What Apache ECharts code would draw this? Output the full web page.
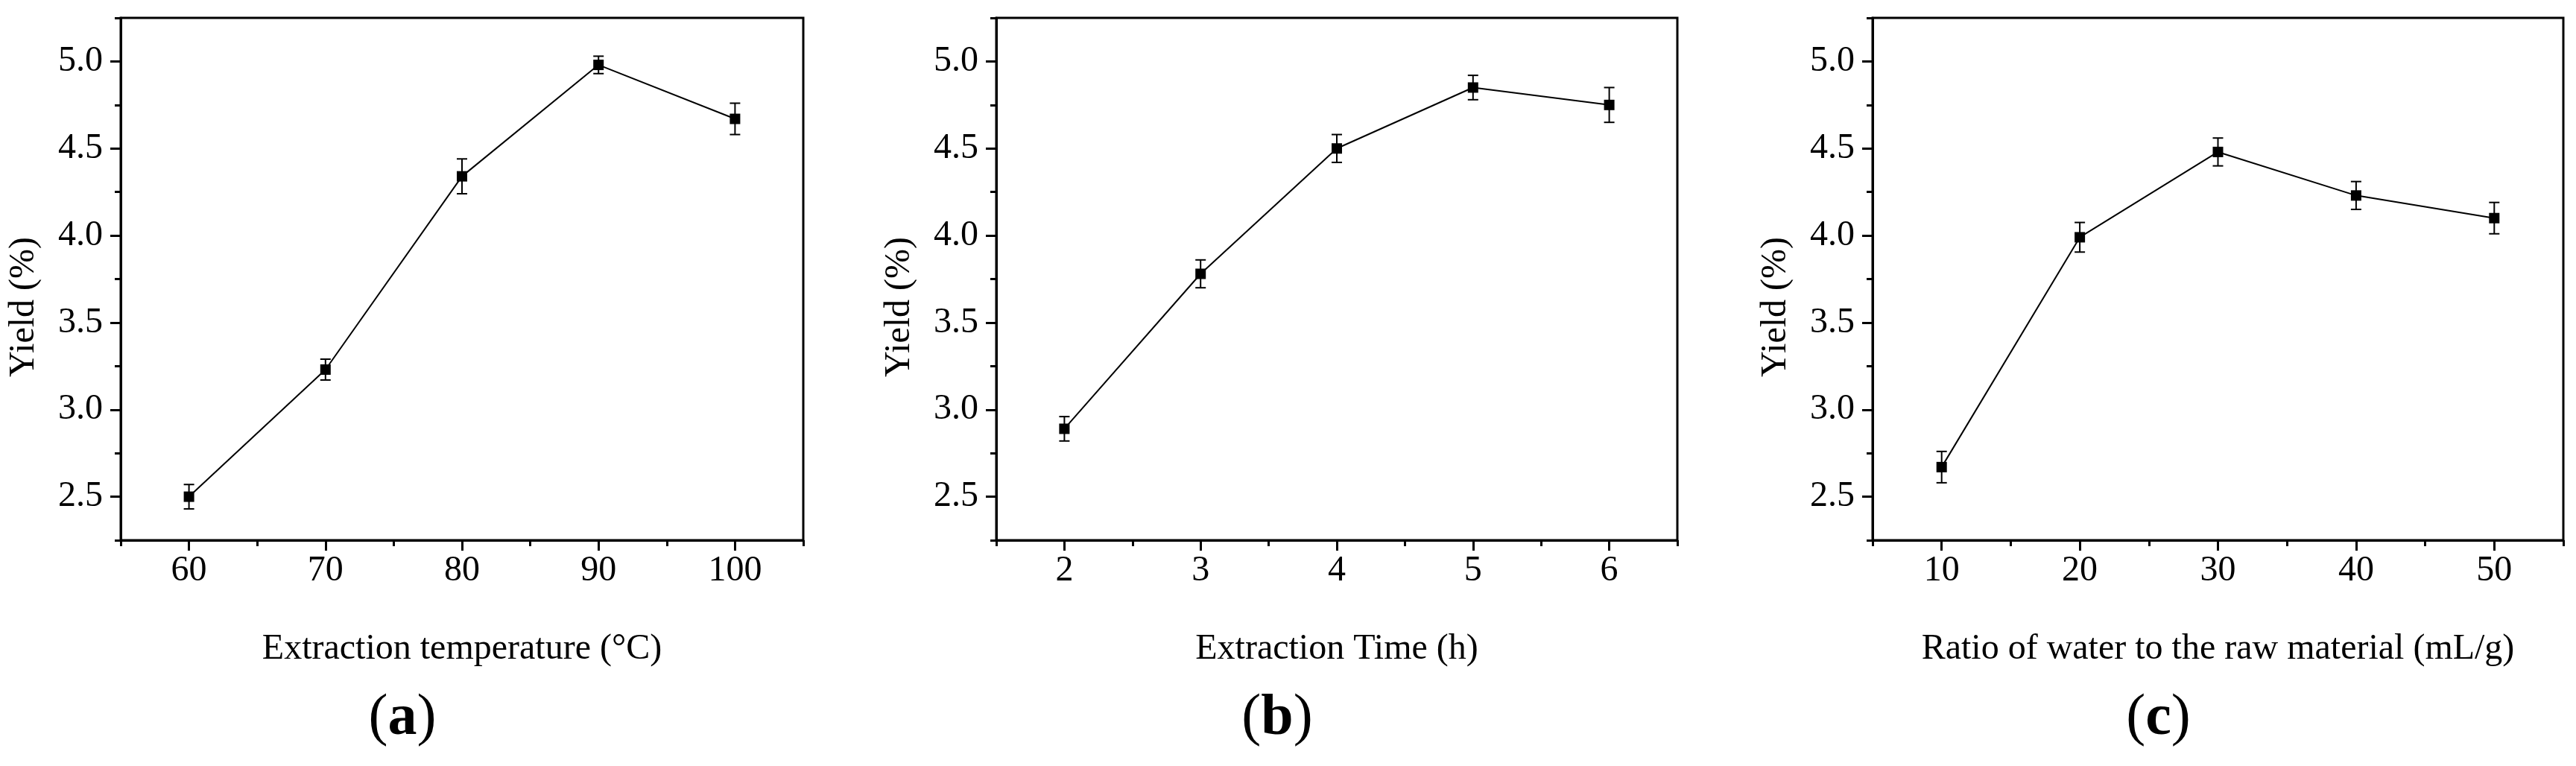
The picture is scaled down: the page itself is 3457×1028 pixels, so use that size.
<!DOCTYPE html>
<html>
<head>
<meta charset="utf-8">
<script src="https://cdn.jsdelivr.net/npm/echarts@6/dist/echarts.min.js"></script>
<style>
  html, body { margin: 0; padding: 0; background: #fff; }
  #main { width: 3457px; height: 1028px; }
</style>
</head>
<body>
<div id="main"></div>
<script>
// panel (a): extraction temperature
var tempX = [60, 70, 80, 90, 100];
var tempYield = [2.50, 3.23, 4.34, 4.98, 4.67];
var tempErr = [0.07, 0.06, 0.10, 0.05, 0.09];
var tempTicks = [60, 70, 80, 90, 100];
var tempMinor = [55, 65, 75, 85, 95, 105];

// panel (b): extraction time
var timeX = [2, 3, 4, 5, 6];
var timeYield = [2.89, 3.78, 4.50, 4.85, 4.75];
var timeErr = [0.07, 0.08, 0.08, 0.07, 0.10];
var timeTicks = [2, 3, 4, 5, 6];
var timeMinor = [1.5, 2.5, 3.5, 4.5, 5.5, 6.5];

// panel (c): ratio of water to raw material
var ratioX = [10, 20, 30, 40, 50];
var ratioYield = [2.67, 3.99, 4.48, 4.23, 4.10];
var ratioErr = [0.09, 0.085, 0.08, 0.08, 0.09];
var ratioTicks = [10, 20, 30, 40, 50];
var ratioMinor = [5, 15, 25, 35, 45, 55];

// shared y axis
var yTicks = [2.5, 3.0, 3.5, 4.0, 4.5, 5.0];
var yMinor = [2.25, 2.75, 3.25, 3.75, 4.25, 4.75, 5.25];

var xNames = ['Extraction temperature (\u00B0C)', 'Extraction Time (h)', 'Ratio of water to the raw material (mL/g)'];
var panelLabels = ['a', 'b', 'c'];

var FONT = 'Liberation Serif';

var panels = [
  { x: tempX, y: tempYield, err: tempErr, ticks: tempTicks, minor: tempMinor, min: 55, max: 105, left: 162, width: 916 },
  { x: timeX, y: timeYield, err: timeErr, ticks: timeTicks, minor: timeMinor, min: 1.5, max: 6.5, left: 1337, width: 914 },
  { x: ratioX, y: ratioYield, err: ratioErr, ticks: ratioTicks, minor: ratioMinor, min: 5, max: 55, left: 2513, width: 927 }
];

var TOP = 24, HEIGHT = 701;
var black = '#000';

var grids = [], xAxes = [], yAxes = [], series = [], graphics = [];

panels.forEach(function (p, i) {
  grids.push({
    left: p.left, width: p.width, top: TOP, height: HEIGHT,
    show: true, borderColor: black, borderWidth: 3, backgroundColor: 'transparent'
  });

  // major x ticks + labels
  xAxes.push({
    type: 'value', gridIndex: i, min: p.min, max: p.max, position: 'bottom',
    axisLine: { show: true, onZero: false, lineStyle: { color: black, width: 3 } },
    axisTick: { show: true, customValues: p.ticks, length: 14, lineStyle: { color: black, width: 3 } },
    axisLabel: { customValues: p.ticks, margin: 17, fontSize: 48, color: black, fontFamily: FONT },
    splitLine: { show: false }
  });
  // minor x ticks
  xAxes.push({
    type: 'value', gridIndex: i, min: p.min, max: p.max, position: 'bottom',
    axisLine: { show: false, onZero: false },
    axisTick: { show: true, customValues: p.minor, length: 8, lineStyle: { color: black, width: 3 } },
    axisLabel: { show: false },
    splitLine: { show: false }
  });

  yAxes.push({
    type: 'value', gridIndex: i, min: 2.25, max: 5.25, position: 'left',
    axisLine: { show: true, onZero: false, lineStyle: { color: black, width: 3 } },
    axisTick: { show: true, customValues: yTicks, length: 14, lineStyle: { color: black, width: 3 } },
    axisLabel: {
      customValues: yTicks, margin: 24, fontSize: 48, color: black, fontFamily: FONT,
      formatter: function (v) { return Number(v).toFixed(1); }
    },
    splitLine: { show: false }
  });
  yAxes.push({
    type: 'value', gridIndex: i, min: 2.25, max: 5.25, position: 'left',
    axisLine: { show: false, onZero: false },
    axisTick: { show: true, customValues: yMinor, length: 8, lineStyle: { color: black, width: 3 } },
    axisLabel: { show: false },
    splitLine: { show: false }
  });

  var pts = p.x.map(function (xv, k) { return [xv, p.y[k]]; });
  var bars = p.x.map(function (xv, k) { return [xv, p.y[k], p.err[k]]; });

  series.push({
    type: 'line', xAxisIndex: 2 * i, yAxisIndex: 2 * i,
    data: pts, symbol: 'rect', symbolSize: 14,
    lineStyle: { color: black, width: 2 },
    itemStyle: { color: black },
    z: 3, animation: false
  });

  series.push({
    type: 'custom', xAxisIndex: 2 * i, yAxisIndex: 2 * i,
    data: bars, z: 4, animation: false,
    renderItem: function (params, api) {
      var xv = api.value(0), yv = api.value(1), e = api.value(2);
      var hi = api.coord([xv, yv + e]);
      var lo = api.coord([xv, yv - e]);
      var w = 7;
      var st = { stroke: black, lineWidth: 2 };
      return {
        type: 'group',
        children: [
          { type: 'line', shape: { x1: hi[0], y1: hi[1], x2: lo[0], y2: lo[1] }, style: st },
          { type: 'line', shape: { x1: hi[0] - w, y1: hi[1], x2: hi[0] + w, y2: hi[1] }, style: st },
          { type: 'line', shape: { x1: lo[0] - w, y1: lo[1], x2: lo[0] + w, y2: lo[1] }, style: st }
        ]
      };
    }
  });

  var cx = p.left + p.width / 2;

  // y axis title
  graphics.push({
    type: 'text', x: p.left - 130, y: 412, rotation: Math.PI / 2,
    style: {
      text: 'Yield (%)', fill: black, fontSize: 48, fontFamily: FONT,
      align: 'center', verticalAlign: 'middle', textAlign: 'center', textVerticalAlign: 'middle'
    }
  });
  // x axis title
  graphics.push({
    type: 'text', x: cx, y: 871,
    style: {
      text: xNames[i], fill: black, fontSize: 48, fontFamily: FONT,
      align: 'center', verticalAlign: 'middle', textAlign: 'center', textVerticalAlign: 'middle'
    }
  });
  // panel label (a)/(b)/(c) with bold letter
  graphics.push({
    type: 'text', x: cx - 80, y: 965,
    style: {
      text: '({b|' + panelLabels[i] + '})', fill: black, fontSize: 78, fontFamily: FONT,
      align: 'center', verticalAlign: 'middle', textAlign: 'center', textVerticalAlign: 'middle',
      rich: { b: { fontWeight: 'bold', fontSize: 78, fontFamily: FONT, fill: black } }
    }
  });
});

var chart = echarts.init(document.getElementById('main'));
chart.setOption({
  animation: false,
  backgroundColor: '#fff',
  grid: grids,
  xAxis: xAxes,
  yAxis: yAxes,
  series: series,
  graphic: graphics
});
</script>
</body>
</html>
